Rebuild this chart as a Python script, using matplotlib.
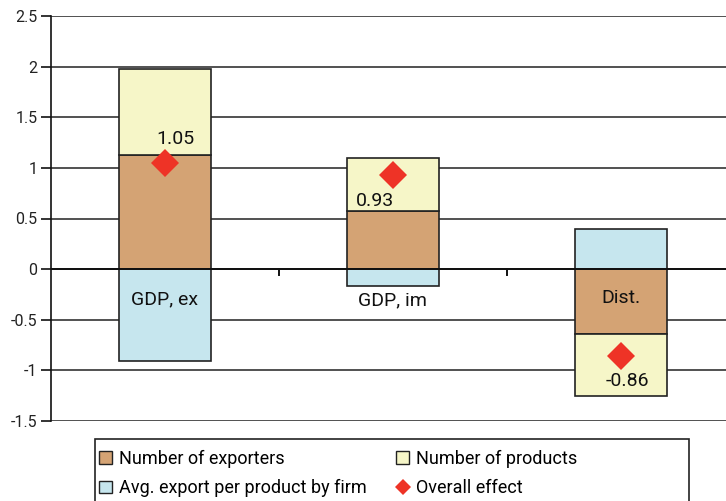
import matplotlib
matplotlib.use("Agg")
import matplotlib.pyplot as plt
from matplotlib.patches import Rectangle, Patch
from matplotlib.lines import Line2D
import numpy as np

plt.rcParams['font.family'] = ['Roboto', 'DejaVu Sans']

categories = ["GDP, ex", "GDP, im", "Dist."]
exporters = [1.13, 0.57, -0.645]
products = [0.85, 0.53, -0.61]
avg_export = [-0.91, -0.17, 0.40]
overall = [1.05, 0.93, -0.86]
overall_labels = ["1.05", "0.93", "-0.86"]
yticks = [-1.5, -1, -0.5, 0, 0.5, 1, 1.5, 2, 2.5]
ytick_labels = ["-1.5", "-1", "-0.5", "0", "0.5", "1", "1.5", "2", "2.5"]

series = [
    ("Number of exporters", exporters, "#D4A374"),
    ("Number of products", products, "#F6F6C8"),
    ("Avg. export per product by firm", avg_export, "#C6E6EE"),
]

W, H = 726, 501
fig = plt.figure(figsize=(W / 100, H / 100), dpi=100)
ax = fig.add_axes([50.7 / W, 80 / H, (735 - 50.7) / W, 405 / H])

x = np.arange(len(categories))
width = 0.405
pos_base = np.zeros(len(categories))
neg_base = np.zeros(len(categories))
for name, vals, col in series:
    vals = np.array(vals)
    bottoms = np.where(vals >= 0, pos_base, neg_base)
    ax.bar(x, vals, width, bottom=bottoms, color=col, edgecolor="#222222",
           linewidth=1.2, zorder=3)
    pos_base = pos_base + np.where(vals >= 0, vals, 0)
    neg_base = neg_base + np.where(vals < 0, vals, 0)

ax.plot(x, overall, linestyle="none", marker="D", markersize=14.5,
        color="#EE3326", markeredgewidth=0, zorder=5)

# value labels
lab_off = [(0.045, 0.24), (-0.08, -0.26), (0.03, -0.24)]
for i, (lbl, v) in enumerate(zip(overall_labels, overall)):
    dx, dy = lab_off[i]
    ax.text(x[i] + dx, v + dy, lbl, ha="center", va="center", fontsize=14,
            color="#111111", zorder=6)

# category labels
cat_pos = [-0.3, -0.31, -0.29]
for i, (c, yy) in enumerate(zip(categories, cat_pos)):
    ax.text(x[i], yy, c, ha="center", va="center", fontsize=14,
            color="#111111", zorder=6)

ax.set_xlim(-0.5, 2.5)
ax.set_ylim(-1.5, 2.5)
ax.set_yticks(yticks)
ax.set_yticklabels(ytick_labels, fontsize=11.5, color="#222222")
ax.yaxis.grid(True, color="#333333", linewidth=1.2, zorder=0)
ax.set_axisbelow(True)
ax.set_xticks([])
for s in ["top", "right", "bottom"]:
    ax.spines[s].set_visible(False)
ax.spines["left"].set_color("#111111")
ax.spines["left"].set_linewidth(1.2)
ax.tick_params(axis="y", length=7, width=1.2, color="#111111", pad=2.5)

# zero axis line with category separators
ax.axhline(0, color="#111111", linewidth=1.4, zorder=4)
for b in [0.5, 1.5]:
    ax.plot([b, b], [0, -0.06], color="#111111", linewidth=1.4,
            clip_on=False, zorder=4)

# legend box
fig.patches.append(Rectangle((95 / W, -10 / H), (689 - 95) / W, (62 + 10) / H,
                             transform=fig.transFigure, facecolor="white",
                             edgecolor="#222222", linewidth=1.2))
handles = [
    Patch(facecolor="#D4A374", edgecolor="#222222", linewidth=1),
    Patch(facecolor="#F6F6C8", edgecolor="#222222", linewidth=1),
    Patch(facecolor="#C6E6EE", edgecolor="#222222", linewidth=1),
    Line2D([], [], linestyle="none", marker="D", color="#EE3326",
           markersize=8, markeredgewidth=0),
]
labels = ["Number of exporters", "Number of products",
          "Avg. export per product by firm", "Overall effect"]
order = [0, 2, 1, 3]
leg = fig.legend([handles[i] for i in order], [labels[i] for i in order],
                 ncol=2, loc="upper left", bbox_to_anchor=(99 / W, 1 - 450 / H),
                 frameon=False, fontsize=13, handlelength=0.7, handleheight=0.7,
                 handletextpad=0.4, columnspacing=1.65, labelspacing=0.62,
                 borderpad=0, borderaxespad=0)

fig.savefig("out.png", dpi=100)
